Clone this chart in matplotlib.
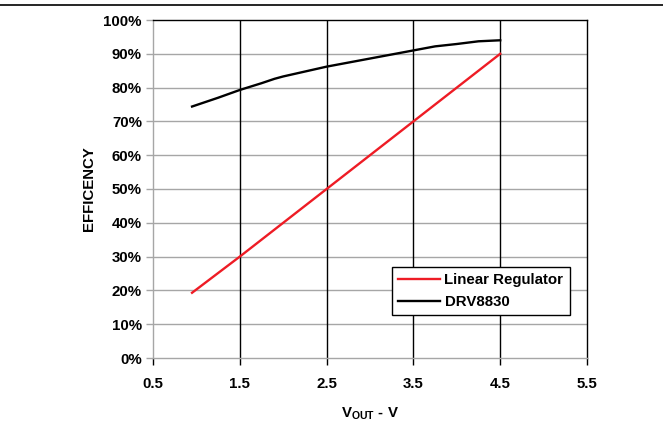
import numpy as np
import matplotlib; matplotlib.use("Agg"); import matplotlib.pyplot as plt
from matplotlib.lines import Line2D

plt.rcParams['font.family'] = ['Liberation Sans', 'DejaVu Sans']
plt.rcParams['mathtext.fontset'] = 'custom'
plt.rcParams['mathtext.rm'] = 'Liberation Sans:bold'
plt.rcParams['mathtext.bf'] = 'Liberation Sans:bold'

# data
vout_lin = [0.95, 1.5, 2.0, 2.5, 3.0, 3.5, 4.0, 4.5]
eff_lin = [19.3, 30.0, 40.0, 50.0, 60.0, 70.0, 80.0, 90.0]
vout_drv = [0.95, 1.25, 1.5, 1.75, 1.9, 2.0, 2.5, 3.0, 3.5, 3.75, 4.0, 4.25, 4.5]
eff_drv = [74.4, 77.0, 79.3, 81.3, 82.6, 83.3, 86.2, 88.6, 91.0, 92.2, 92.9, 93.7, 94.0]
xticks = [0.5, 1.5, 2.5, 3.5, 4.5, 5.5]
yticks = list(range(0, 101, 10))

GRAY = "#a6a6a6"
FS = 10.8
fig = plt.figure(figsize=(6.63, 4.25), dpi=100)
ax = fig.add_axes([153/663, 1-358/425, 434/663, 338/425])

ax.plot(vout_lin, eff_lin, color="#ee1c25", lw=1.7, label="Linear Regulator", zorder=3)
ax.plot(vout_drv, eff_drv, color="black", lw=1.7, label="DRV8830", zorder=3)

ax.set_xlim(0.5, 5.5); ax.set_ylim(0, 100)
ax.set_xticks(xticks); ax.set_yticks(yticks)
ax.set_xticklabels([f"{v:.1f}" for v in xticks], fontsize=FS, fontweight="bold")
ax.set_yticklabels([f"{v}%" for v in yticks], fontsize=FS, fontweight="bold")
for y in yticks[1:-1]:
    ax.axhline(y, color=GRAY, lw=1.0, zorder=1)
for x in xticks[1:-1]:
    ax.axvline(x, color="black", lw=1.0, zorder=1)

ax.tick_params(axis="y", length=5, width=1.0, color=GRAY, pad=3)
ax.tick_params(axis="x", length=5, width=1.0, color="black", pad=9)
ax.xaxis.get_major_ticks()[0].tick1line.set_color(GRAY)
ax.spines["left"].set_color(GRAY); ax.spines["bottom"].set_color(GRAY)
ax.spines["top"].set_color("black"); ax.spines["right"].set_color("black")
for s in ax.spines.values():
    s.set_linewidth(1.0)

ax.set_ylabel("EFFICENCY", fontsize=FS, fontweight="bold", labelpad=5)
ax.set_xlabel(r"V$_{\mathbf{OUT}}$ - V", fontsize=FS, fontweight="bold", labelpad=10)

leg = ax.legend(loc="upper left", bbox_to_anchor=((392-153)/434, (358-267)/338),
                prop={"weight": "bold", "size": FS}, fancybox=False, framealpha=1,
                edgecolor="black", handlelength=2.8, handletextpad=0.3,
                borderpad=0.4, labelspacing=0.55, borderaxespad=0)
leg.get_frame().set_linewidth(1.0)

fig.add_artist(Line2D([0, 1], [1-5/425, 1-5/425], transform=fig.transFigure, color="black", lw=1.2))
fig.savefig("out.png", dpi=100)
